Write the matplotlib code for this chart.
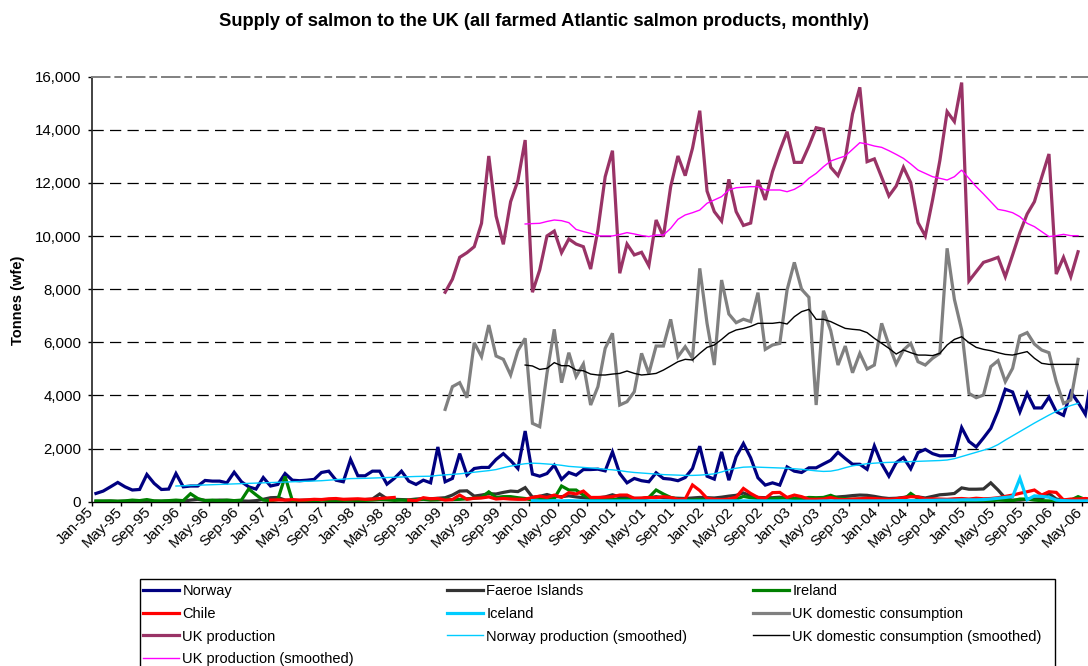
import numpy as np
import pandas as pd
import matplotlib
matplotlib.use("Agg")
import matplotlib.pyplot as plt
from matplotlib.patches import Rectangle
from matplotlib.ticker import FuncFormatter
from matplotlib.transforms import ScaledTranslation

plt.rcParams['font.family'] = ['Liberation Sans', 'DejaVu Sans']

# monthly categories Jan-95 .. Jun-06
months = pd.date_range('1995-01-01', periods=138, freq='MS')
month_labels = [m.strftime('%b-%y') for m in months]

norway = [310, 400, 560, 725, 560, 440, 460, 1025, 690, 460, 475, 1060,
          560, 590, 590, 800, 775, 775, 710, 1110, 750, 560, 475, 910,
          590, 650, 1060, 810, 790, 810, 840, 1100, 1150, 810, 750, 1590,
          975, 975, 1150, 1150, 660, 875, 1150, 775, 650, 810, 710, 2060,
          750, 875, 1810, 1000, 1250, 1290, 1290, 1590, 1810, 1550, 1250, 2660,
          1040, 960, 1060, 1375, 840, 1100, 1000, 1210, 1210, 1225, 1160, 1875,
          1060, 710, 875, 790, 750, 1090, 875, 850, 790, 910, 1250, 2090,
          960, 850, 1875, 810, 1690, 2190, 1650, 900, 625, 710, 625, 1310,
          1150, 1100, 1275, 1275, 1420, 1560, 1860, 1625, 1410, 1410, 1220, 2100,
          1430, 960, 1470, 1665, 1240, 1850, 1970, 1810, 1725, 1730, 1740, 2790,
          2270, 2060, 2400, 2760, 3420, 4235, 4130, 3380, 4080, 3530, 3530, 3940,
          3390, 3250, 4130, 3740, 3290, 5000]

faeroe = [10, 10, 20, 10, 20, 30, 20, 40, 20, 10, 20, 30,
          20, 60, 90, 50, 40, 60, 50, 40, 30, 20, 40, 90,
          150, 160, 60, 40, 50, 60, 70, 80, 60, 70, 80, 60,
          70, 80, 100, 290, 110, 90, 80, 70, 100, 120, 110, 130,
          150, 250, 400, 410, 210, 250, 300, 290, 350, 400, 380, 530,
          170, 200, 270, 190, 190, 220, 180, 150, 120, 140, 180, 260,
          180, 150, 130, 120, 150, 190, 150, 140, 130, 120, 140, 160,
          150, 140, 170, 210, 240, 330, 220, 160, 150, 150, 170, 140,
          130, 120, 110, 120, 130, 150, 180, 200, 230, 250, 240, 200,
          150, 120, 130, 160, 210, 180, 140, 200, 260, 280, 310, 520,
          470, 470, 480, 710, 440, 130, 60, 60, 90, 100, 110, 310,
          100, 60, 50, 50, 40, 40]

ireland = [30, 30, 30, 20, 30, 60, 40, 80, 30, 30, 40, 60,
           40, 300, 120, 40, 60, 40, 60, 40, 60, 480, 260, 60,
           30, 80, 950, 40, 30, 40, 30, 60, 50, 40, 50, 60,
           40, 50, 60, 80, 70, 50, 60, 50, 70, 90, 60, 70,
           100, 80, 90, 110, 130, 160, 370, 160, 190, 190, 150, 120,
           60, 80, 100, 120, 590, 440, 440, 250, 120, 100, 110, 90,
           80, 90, 100, 110, 160, 440, 290, 160, 90, 70, 60, 80,
           60, 50, 60, 60, 90, 200, 150, 120, 100, 110, 130, 140,
           120, 110, 160, 150, 160, 240, 130, 110, 90, 100, 80, 60,
           70, 60, 80, 70, 310, 120, 80, 60, 50, 40, 60, 50,
           50, 40, 50, 40, 60, 50, 40, 100, 100, 60, 40, 30,
           30, 40, 60, 190, 80, 60]

# Chile from Jan-97 (one month missing)
chile = [60, 70, 60, 80, 60, 70, 90, 80, 110, 120, 90, 100,
         110, 90, 100, 120, 140, 160, None, 60, 40, 150, 110, 120,
         60, 80, 250, 90, 130, 140, 180, 100, 120, 100, 90, 90,
         160, 210, 160, 250, 160, 340, 290, 400, 160, 160, 170, 190,
         250, 250, 125, 140, 160, 150, 190, 160, 90, 100, 630, 420,
         125, 90, 80, 100, 170, 500, 310, 160, 125, 340, 350, 160,
         250, 190, 90, 90, 100, 160, 90, 80, 100, 110, 130, 120,
         100, 90, 110, 150, 190, 180, 100, 110, 100, 90, 110, 120,
         100, 130, 110, 120, 150, 200, 250, 315, 375, 440, 250, 375,
         350, 65, 100, 100, 120, 100]
chile_start = 24

# Iceland from Jan-00
iceland = [40, 30, 30, 40, 30, 40, 30, 30, 30, 30, 30, 30,
           30, 30, 30, 30, 30, 30, 30, 30, 30, 30, 30, 30,
           30, 30, 30, 30, 30, 30, 30, 30, 30, 30, 30, 30,
           20, 20, 20, 20, 30, 30, 30, 30, 30, 30, 30, 30,
           30, 30, 40, 40, 40, 40, 50, 50, 60, 60, 60, 70,
           70, 70, 80, 100, 130, 160, 190, 880, 70, 220, 200, 170,
           60, 40, 30, 30, 30, 30]
iceland_start = 60

# UK series from Jan-99
uk_prod = [7885, 8375, 9200, 9375, 9600, 10480, 13015, 10755, 9690, 11295, 12085, 13615,
           7885, 8725, 10005, 10190, 9375, 9890, 9700, 9600, 8760, 10230, 12235, 13215,
           8600, 9700, 9290, 9390, 8885, 10605, 9980, 11860, 13015, 12275, 13305, 14720,
           11695, 10920, 10565, 12135, 10920, 10400, 10490, 12110, 11360, 12425, 13215, 13930,
           12775, 12775, 13390, 14080, 14020, 12590, 12275, 12930, 14600, 15600, 12800, 12905,
           12215, 11510, 11885, 12590, 12010, 10505, 10005, 11360, 12840, 14685, 14310, 15780,
           8310, 8660, 9010, 9100, 9200, 8470, 9290, 10130, 10830, 11295, 12215, 13090,
           8570, 9200, 8470, 9410]
uk_dom = [3475, 4330, 4480, 3915, 5985, 5460, 6650, 5485, 5360, 4770, 5685, 6150,
          2950, 2825, 4830, 6490, 4480, 5610, 4710, 5185, 3640, 4330, 5775, 6340,
          3640, 3765, 4140, 5585, 4830, 5860, 5860, 6865, 5460, 5835, 5400, 8785,
          6715, 5145, 8345, 7065, 6740, 6870, 6780, 7870, 5735, 5900, 5960, 7970,
          9010, 7995, 7695, 3640, 7190, 6440, 5145, 5860, 4855, 5585, 4995, 5145,
          6715, 5900, 5185, 5710, 5960, 5270, 5145, 5400, 5585, 9540, 7620, 6465,
          4080, 3915, 4015, 5085, 5310, 4520, 5020, 6240, 6365, 5935, 5710, 5610,
          4520, 3700, 3830, 5360]
uk_start = 48

# smoothed series from Dec-99
uk_prod_smooth = [10455,
                  10470, 10480, 10550, 10605, 10580, 10505, 10250, 10170, 10100, 10005, 10005, 10005,
                  10060, 10130, 10080, 10020, 9980, 10040, 10040, 10290, 10630, 10795, 10880, 10980,
                  11235, 11360, 11485, 11735, 11820, 11840, 11860, 11860, 11735, 11735, 11735, 11670,
                  11760, 11920, 12175, 12360, 12610, 12825, 12925, 13015, 13265, 13515, 13465, 13390,
                  13340, 13215, 13075, 12925, 12715, 12485, 12360, 12235, 12175, 12110, 12235, 12485,
                  12175, 11860, 11585, 11295, 11005, 10955, 10880, 10730, 10480, 10355, 10165, 9980,
                  10015, 10065, 10015, 10015]
uk_dom_smooth = [5145,
                 5110, 4980, 5020, 5235, 5120, 5120, 4955, 4930, 4805, 4770, 4770, 4805,
                 4830, 4920, 4830, 4770, 4795, 4830, 4955, 5110, 5270, 5360, 5335, 5585,
                 5810, 5900, 6110, 6340, 6465, 6520, 6600, 6715, 6715, 6715, 6750, 6690,
                 6965, 7155, 7240, 6865, 6865, 6780, 6650, 6525, 6490, 6465, 6365, 6150,
                 5960, 5775, 5560, 5710, 5610, 5520, 5520, 5500, 5585, 5900, 6110, 6210,
                 5985, 5810, 5735, 5685, 5610, 5545, 5520, 5585, 5650, 5400, 5210, 5170,
                 5170, 5170, 5170, 5170]
smooth_start = 59

# Norway smoothed from Dec-95
norway_smooth = [590,
                 600, 610, 620, 630, 640, 650, 660, 670, 680, 690, 700, 710,
                 720, 730, 740, 750, 760, 770, 780, 790, 810, 830, 850, 870,
                 875, 880, 890, 900, 910, 920, 930, 940, 950, 955, 960, 990,
                 1010, 1030, 1050, 1080, 1110, 1140, 1170, 1210, 1280, 1340, 1390, 1430,
                 1450, 1440, 1420, 1400, 1370, 1330, 1310, 1290, 1270, 1250, 1220, 1200,
                 1170, 1130, 1100, 1080, 1060, 1040, 1020, 1010, 1000, 990, 990, 1000,
                 1020, 1050, 1120, 1200, 1260, 1300, 1310, 1300, 1290, 1280, 1270, 1260,
                 1240, 1220, 1190, 1160, 1140, 1150, 1200, 1280, 1350, 1390, 1430, 1450,
                 1470, 1480, 1490, 1500, 1510, 1520, 1530, 1540, 1550, 1570, 1620, 1700,
                 1780, 1860, 1940, 2020, 2150, 2320, 2480, 2640, 2800, 2960, 3110, 3260,
                 3400, 3520, 3620, 3700]
norway_smooth_start = 11

n = len(months)


def pad(start, vals):
    out = np.full(n, np.nan)
    arr = np.array([np.nan if v is None else v for v in vals], dtype=float)
    out[start:start + len(arr)] = arr
    return out


x = np.arange(n)

fig = plt.figure(figsize=(10.88, 6.66), dpi=100)
W, H = 1088, 666
ax = fig.add_axes([92.3 / W, 1 - 501.7 / H, (W - 92.3) / W, (501.7 - 76.7) / H])

thick = 2.3
thin = 1.0
series = [
    ('Norway', pad(0, norway), '#000080', thick),
    ('Faeroe Islands', pad(0, faeroe), '#333333', thick),
    ('Ireland', pad(0, ireland), '#008000', thick),
    ('Chile', pad(chile_start, chile), '#FF0000', thick),
    ('Iceland', pad(iceland_start, iceland), '#00CCFF', thick),
    ('UK domestic consumption', pad(uk_start, uk_dom), '#808080', thick),
    ('UK production', pad(uk_start, uk_prod), '#993366', thick),
    ('Norway production (smoothed)', pad(norway_smooth_start, norway_smooth), '#00CCFF', thin),
    ('UK domestic consumption (smoothed)', pad(smooth_start, uk_dom_smooth), '#000000', thin),
    ('UK production (smoothed)', pad(smooth_start, uk_prod_smooth), '#FF00FF', thin),
]

handles = {}
for label, y, color, lw in series:
    h, = ax.plot(x, y, color=color, lw=lw, label=label, solid_joinstyle='miter', zorder=3)
    handles[label] = h

ax.set_xlim(-0.5, -0.5 + (W - 92.3) / 7.275)
ax.set_ylim(0, 16000)

# grid
for v in range(2000, 16000, 2000):
    ax.axhline(v, color='black', lw=0.9, ls=(0, (9, 5)), zorder=1)

ax.spines['right'].set_visible(False)
ax.spines['top'].set_color('#808080')
ax.spines['top'].set_linestyle((0, (9, 3, 3, 3)))
ax.spines['top'].set_linewidth(1.4)
ax.spines['left'].set_color('#222222')
ax.spines['left'].set_linewidth(1.2)
ax.spines['bottom'].set_color('black')
ax.spines['bottom'].set_linewidth(1.0)

ax.set_yticks(np.arange(0, 16001, 2000))
ax.yaxis.set_major_formatter(FuncFormatter(lambda v, p: f'{int(v):,}'))
ax.tick_params(axis='y', direction='out', length=3, width=1, pad=5, labelsize=10.8)

# tick marks between categories, labels at category centers
ax.set_xticks(np.arange(-0.5, n, 4))
ax.set_xticklabels([])
ax.tick_params(axis='x', which='major', direction='out', length=3, width=1)
lab_idx = np.arange(0, n, 4)
ax.set_xticks(lab_idx, minor=True)
ax.set_xticklabels([month_labels[i] for i in lab_idx], minor=True, rotation=45,
                   ha='right', va='center', rotation_mode='anchor', fontsize=10.8)
ax.tick_params(axis='x', which='minor', length=0, pad=6)
shift = ScaledTranslation(-5 / 100, 0, fig.dpi_scale_trans)
for lab in ax.get_xticklabels(minor=True):
    lab.set_transform(lab.get_transform() + shift)

fig.text(0.5, 1 - 22 / H, 'Supply of salmon to the UK (all farmed Atlantic salmon products, monthly)',
         ha='center', va='center', fontsize=13.2, fontweight='bold')
fig.text(18 / W, 1 - 300 / H, 'Tonnes (wfe)', rotation=90, ha='center', va='center',
         fontsize=10.5, fontweight='bold')

# legend: frame plus three columns
fig.add_artist(Rectangle((140 / W, -0.2), (1055 - 140) / W, 0.2 + 1 - 579 / H,
                         transform=fig.transFigure, fill=False, edgecolor='black', lw=1.0))
cols = [
    (143, ['Norway', 'Chile', 'UK production', 'UK production (smoothed)']),
    (447, ['Faeroe Islands', 'Iceland', 'Norway production (smoothed)']),
    (753, ['Ireland', 'UK domestic consumption', 'UK domestic consumption (smoothed)']),
]
for xpos, labels in cols:
    fig.legend(handles=[handles[l] for l in labels], labels=labels, loc='upper left',
               bbox_to_anchor=(xpos / W, 1 - 584 / H), frameon=False, fontsize=10.5,
               handlelength=2.5, handletextpad=0.2, labelspacing=0.6,
               borderpad=0, borderaxespad=0)

fig.savefig('out.png', dpi=100)
